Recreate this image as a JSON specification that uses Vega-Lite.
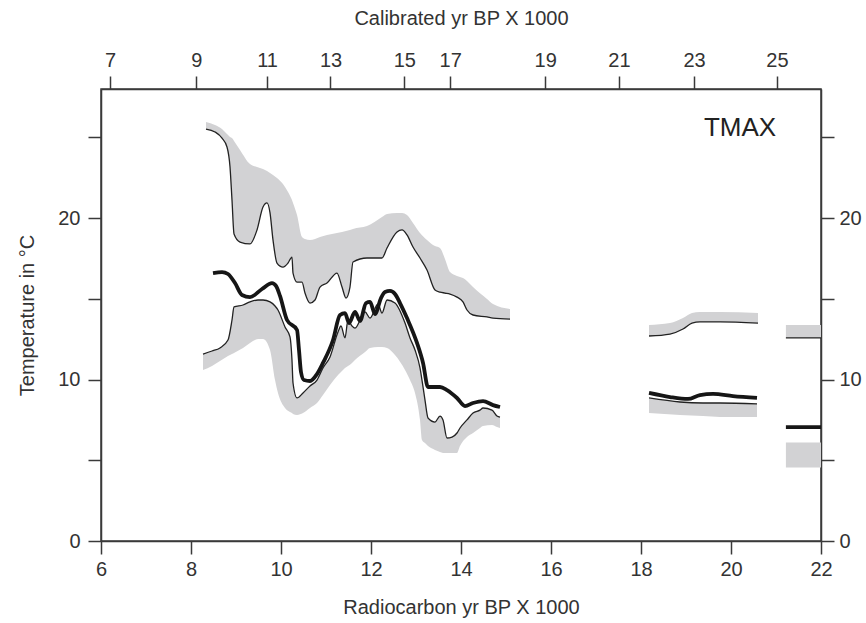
{
  "$schema": "https://vega.github.io/schema/vega-lite/v6.json",
  "width": 720,
  "height": 452,
  "autosize": {"type": "none"},
  "padding": {"left": 101, "top": 89, "right": 45, "bottom": 82},
  "background": "white",
  "config": {
    "view": {"stroke": "#3a3a3a", "strokeWidth": 1.5},
    "font": "Liberation Sans",
    "axis": {
      "domainColor": "#3a3a3a", "domainWidth": 1.5,
      "tickColor": "#3a3a3a", "tickWidth": 1.5, "tickSize": 13,
      "labelFont": "Liberation Sans", "labelFontSize": 20, "labelColor": "#333333",
      "titleFont": "Liberation Sans", "titleFontSize": 20, "titleFontWeight": "normal", "titleColor": "#333333",
      "grid": false, "labelPadding": 5, "labelOverlap": false, "labelFlush": false
    }
  },
  "datasets": {
    "upperBand": [
      {"seg": "A", "rc": 8.333, "lo": 25.52, "hi": 25.96},
      {"seg": "A", "rc": 8.533, "lo": 25.34, "hi": 25.77},
      {"seg": "A", "rc": 8.689, "lo": 24.96, "hi": 25.52},
      {"seg": "A", "rc": 8.8, "lo": 24.41, "hi": 25.21},
      {"seg": "A", "rc": 8.867, "lo": 23.17, "hi": 25.03},
      {"seg": "A", "rc": 8.911, "lo": 21.12, "hi": 24.96},
      {"seg": "A", "rc": 8.956, "lo": 19.02, "hi": 24.78},
      {"seg": "A", "rc": 9.089, "lo": 18.52, "hi": 24.22},
      {"seg": "A", "rc": 9.311, "lo": 18.4, "hi": 23.35},
      {"seg": "A", "rc": 9.467, "lo": 19.27, "hi": 23.17},
      {"seg": "A", "rc": 9.6, "lo": 20.69, "hi": 23.04},
      {"seg": "A", "rc": 9.689, "lo": 20.94, "hi": 22.92},
      {"seg": "A", "rc": 9.756, "lo": 20.32, "hi": 22.8},
      {"seg": "A", "rc": 9.822, "lo": 18.65, "hi": 22.67},
      {"seg": "A", "rc": 9.911, "lo": 17.22, "hi": 22.49},
      {"seg": "A", "rc": 10.044, "lo": 16.97, "hi": 22.11},
      {"seg": "A", "rc": 10.156, "lo": 17.22, "hi": 21.62},
      {"seg": "A", "rc": 10.244, "lo": 17.59, "hi": 21.12},
      {"seg": "A", "rc": 10.267, "lo": 16.6, "hi": 20.94},
      {"seg": "A", "rc": 10.356, "lo": 16.04, "hi": 20.19},
      {"seg": "A", "rc": 10.467, "lo": 16.04, "hi": 18.83},
      {"seg": "A", "rc": 10.533, "lo": 15.36, "hi": 18.71},
      {"seg": "A", "rc": 10.644, "lo": 14.74, "hi": 18.65},
      {"seg": "A", "rc": 10.756, "lo": 14.93, "hi": 18.71},
      {"seg": "A", "rc": 10.867, "lo": 15.73, "hi": 18.83},
      {"seg": "A", "rc": 11.022, "lo": 15.98, "hi": 18.96},
      {"seg": "A", "rc": 11.244, "lo": 16.6, "hi": 19.08},
      {"seg": "A", "rc": 11.356, "lo": 15.73, "hi": 19.14},
      {"seg": "A", "rc": 11.444, "lo": 15.05, "hi": 19.2},
      {"seg": "A", "rc": 11.533, "lo": 15.73, "hi": 19.27},
      {"seg": "A", "rc": 11.6, "lo": 17.28, "hi": 19.33},
      {"seg": "A", "rc": 11.911, "lo": 17.53, "hi": 19.51},
      {"seg": "A", "rc": 12.244, "lo": 17.53, "hi": 20.07},
      {"seg": "A", "rc": 12.356, "lo": 18.15, "hi": 20.26},
      {"seg": "A", "rc": 12.578, "lo": 19.14, "hi": 20.32},
      {"seg": "A", "rc": 12.689, "lo": 19.27, "hi": 20.32},
      {"seg": "A", "rc": 12.8, "lo": 18.96, "hi": 20.19},
      {"seg": "A", "rc": 12.933, "lo": 18.21, "hi": 19.7},
      {"seg": "A", "rc": 13.089, "lo": 17.53, "hi": 19.08},
      {"seg": "A", "rc": 13.244, "lo": 16.79, "hi": 18.65},
      {"seg": "A", "rc": 13.422, "lo": 15.55, "hi": 18.27},
      {"seg": "A", "rc": 13.533, "lo": 15.42, "hi": 18.15},
      {"seg": "A", "rc": 13.644, "lo": 15.36, "hi": 17.47},
      {"seg": "A", "rc": 13.756, "lo": 15.3, "hi": 16.66},
      {"seg": "A", "rc": 13.911, "lo": 15.11, "hi": 16.42},
      {"seg": "A", "rc": 14.044, "lo": 14.81, "hi": 16.29},
      {"seg": "A", "rc": 14.133, "lo": 14.31, "hi": 16.11},
      {"seg": "A", "rc": 14.267, "lo": 14.0, "hi": 15.73},
      {"seg": "A", "rc": 14.578, "lo": 13.88, "hi": 14.99},
      {"seg": "A", "rc": 14.711, "lo": 13.81, "hi": 14.68},
      {"seg": "A", "rc": 15.089, "lo": 13.75, "hi": 14.37},
      {"seg": "B", "rc": 18.178, "lo": 12.7, "hi": 13.38},
      {"seg": "B", "rc": 18.644, "lo": 12.82, "hi": 13.5},
      {"seg": "B", "rc": 18.933, "lo": 13.13, "hi": 13.81},
      {"seg": "B", "rc": 19.133, "lo": 13.5, "hi": 14.12},
      {"seg": "B", "rc": 19.311, "lo": 13.57, "hi": 14.19},
      {"seg": "B", "rc": 19.756, "lo": 13.57, "hi": 14.19},
      {"seg": "B", "rc": 20.6, "lo": 13.5, "hi": 14.12},
      {"seg": "C", "rc": 21.22, "lo": 12.58, "hi": 13.38},
      {"seg": "C", "rc": 22.0, "lo": 12.58, "hi": 13.38}
    ],
    "lowerBand": [
      {"seg": "A", "rc": 8.267, "lo": 10.59, "hi": 11.58},
      {"seg": "A", "rc": 8.467, "lo": 10.84, "hi": 11.77},
      {"seg": "A", "rc": 8.644, "lo": 11.15, "hi": 11.96},
      {"seg": "A", "rc": 8.822, "lo": 11.46, "hi": 12.45},
      {"seg": "A", "rc": 8.911, "lo": 11.58, "hi": 13.69},
      {"seg": "A", "rc": 8.956, "lo": 11.65, "hi": 14.5},
      {"seg": "A", "rc": 9.156, "lo": 11.96, "hi": 14.62},
      {"seg": "A", "rc": 9.311, "lo": 12.27, "hi": 14.81},
      {"seg": "A", "rc": 9.489, "lo": 12.51, "hi": 14.93},
      {"seg": "A", "rc": 9.6, "lo": 12.51, "hi": 14.93},
      {"seg": "A", "rc": 9.756, "lo": 11.83, "hi": 14.81},
      {"seg": "A", "rc": 9.867, "lo": 9.97, "hi": 14.56},
      {"seg": "A", "rc": 9.933, "lo": 9.17, "hi": 14.31},
      {"seg": "A", "rc": 10.089, "lo": 8.24, "hi": 13.26},
      {"seg": "A", "rc": 10.2, "lo": 7.99, "hi": 12.64},
      {"seg": "A", "rc": 10.244, "lo": 7.93, "hi": 11.21},
      {"seg": "A", "rc": 10.267, "lo": 7.87, "hi": 9.79},
      {"seg": "A", "rc": 10.356, "lo": 7.81, "hi": 8.86},
      {"seg": "A", "rc": 10.489, "lo": 7.93, "hi": 9.17},
      {"seg": "A", "rc": 10.644, "lo": 8.24, "hi": 9.6},
      {"seg": "A", "rc": 10.8, "lo": 8.55, "hi": 9.97},
      {"seg": "A", "rc": 10.933, "lo": 9.04, "hi": 10.72},
      {"seg": "A", "rc": 11.089, "lo": 9.66, "hi": 11.4},
      {"seg": "A", "rc": 11.267, "lo": 10.28, "hi": 12.95},
      {"seg": "A", "rc": 11.333, "lo": 10.47, "hi": 13.32},
      {"seg": "A", "rc": 11.422, "lo": 10.72, "hi": 12.58},
      {"seg": "A", "rc": 11.489, "lo": 10.84, "hi": 13.69},
      {"seg": "A", "rc": 11.578, "lo": 11.03, "hi": 13.32},
      {"seg": "A", "rc": 11.644, "lo": 11.21, "hi": 13.19},
      {"seg": "A", "rc": 11.867, "lo": 11.71, "hi": 14.19},
      {"seg": "A", "rc": 11.978, "lo": 11.96, "hi": 13.81},
      {"seg": "A", "rc": 12.156, "lo": 12.02, "hi": 14.68},
      {"seg": "A", "rc": 12.244, "lo": 12.02, "hi": 14.12},
      {"seg": "A", "rc": 12.356, "lo": 11.96, "hi": 14.93},
      {"seg": "A", "rc": 12.533, "lo": 11.52, "hi": 14.74},
      {"seg": "A", "rc": 12.756, "lo": 10.59, "hi": 13.5},
      {"seg": "A", "rc": 12.867, "lo": 9.97, "hi": 12.58},
      {"seg": "A", "rc": 12.978, "lo": 9.17, "hi": 11.83},
      {"seg": "A", "rc": 13.089, "lo": 7.5, "hi": 10.72},
      {"seg": "A", "rc": 13.133, "lo": 6.26, "hi": 9.97},
      {"seg": "A", "rc": 13.2, "lo": 6.07, "hi": 8.73},
      {"seg": "A", "rc": 13.267, "lo": 5.88, "hi": 7.62},
      {"seg": "A", "rc": 13.422, "lo": 5.64, "hi": 7.37},
      {"seg": "A", "rc": 13.533, "lo": 5.51, "hi": 7.74},
      {"seg": "A", "rc": 13.6, "lo": 5.45, "hi": 7.5},
      {"seg": "A", "rc": 13.689, "lo": 5.45, "hi": 6.38},
      {"seg": "A", "rc": 13.8, "lo": 5.45, "hi": 6.44},
      {"seg": "A", "rc": 13.911, "lo": 5.45, "hi": 6.69},
      {"seg": "A", "rc": 13.978, "lo": 5.88, "hi": 7.0},
      {"seg": "A", "rc": 14.133, "lo": 6.44, "hi": 7.5},
      {"seg": "A", "rc": 14.267, "lo": 6.69, "hi": 7.93},
      {"seg": "A", "rc": 14.422, "lo": 7.0, "hi": 8.11},
      {"seg": "A", "rc": 14.489, "lo": 7.12, "hi": 8.24},
      {"seg": "A", "rc": 14.689, "lo": 7.19, "hi": 8.11},
      {"seg": "A", "rc": 14.8, "lo": 7.06, "hi": 7.74},
      {"seg": "A", "rc": 14.867, "lo": 7.0, "hi": 7.68},
      {"seg": "B", "rc": 18.178, "lo": 7.93, "hi": 8.86},
      {"seg": "B", "rc": 18.867, "lo": 7.81, "hi": 8.61},
      {"seg": "B", "rc": 19.378, "lo": 7.74, "hi": 8.55},
      {"seg": "B", "rc": 19.756, "lo": 7.68, "hi": 8.55},
      {"seg": "B", "rc": 20.578, "lo": 7.68, "hi": 8.49},
      {"seg": "C", "rc": 21.22, "lo": 4.55, "hi": 6.1},
      {"seg": "C", "rc": 22.0, "lo": 4.55, "hi": 6.1}
    ],
    "tmax": [
      {"seg": "A", "rc": 8.489, "T": 16.6},
      {"seg": "A", "rc": 8.689, "T": 16.66},
      {"seg": "A", "rc": 8.822, "T": 16.54},
      {"seg": "A", "rc": 8.978, "T": 15.98},
      {"seg": "A", "rc": 9.133, "T": 15.24},
      {"seg": "A", "rc": 9.311, "T": 15.11},
      {"seg": "A", "rc": 9.578, "T": 15.61},
      {"seg": "A", "rc": 9.8, "T": 15.98},
      {"seg": "A", "rc": 9.889, "T": 15.8},
      {"seg": "A", "rc": 9.978, "T": 15.18},
      {"seg": "A", "rc": 10.133, "T": 13.69},
      {"seg": "A", "rc": 10.356, "T": 13.07},
      {"seg": "A", "rc": 10.4, "T": 11.83},
      {"seg": "A", "rc": 10.444, "T": 10.47},
      {"seg": "A", "rc": 10.511, "T": 9.97},
      {"seg": "A", "rc": 10.644, "T": 9.91},
      {"seg": "A", "rc": 10.8, "T": 10.34},
      {"seg": "A", "rc": 10.933, "T": 11.03},
      {"seg": "A", "rc": 11.156, "T": 12.45},
      {"seg": "A", "rc": 11.311, "T": 14.0},
      {"seg": "A", "rc": 11.422, "T": 14.12},
      {"seg": "A", "rc": 11.511, "T": 13.5},
      {"seg": "A", "rc": 11.644, "T": 14.19},
      {"seg": "A", "rc": 11.756, "T": 13.63},
      {"seg": "A", "rc": 11.889, "T": 14.74},
      {"seg": "A", "rc": 11.978, "T": 14.81},
      {"seg": "A", "rc": 12.089, "T": 14.06},
      {"seg": "A", "rc": 12.222, "T": 15.05},
      {"seg": "A", "rc": 12.311, "T": 15.42},
      {"seg": "A", "rc": 12.422, "T": 15.49},
      {"seg": "A", "rc": 12.533, "T": 15.3},
      {"seg": "A", "rc": 12.644, "T": 14.74},
      {"seg": "A", "rc": 12.8, "T": 13.81},
      {"seg": "A", "rc": 13.022, "T": 12.27},
      {"seg": "A", "rc": 13.156, "T": 11.03},
      {"seg": "A", "rc": 13.267, "T": 9.54},
      {"seg": "A", "rc": 13.533, "T": 9.54},
      {"seg": "A", "rc": 13.689, "T": 9.35},
      {"seg": "A", "rc": 13.911, "T": 8.86},
      {"seg": "A", "rc": 14.089, "T": 8.36},
      {"seg": "A", "rc": 14.267, "T": 8.55},
      {"seg": "A", "rc": 14.489, "T": 8.67},
      {"seg": "A", "rc": 14.711, "T": 8.42},
      {"seg": "A", "rc": 14.867, "T": 8.3},
      {"seg": "B", "rc": 18.178, "T": 9.17},
      {"seg": "B", "rc": 18.644, "T": 8.92},
      {"seg": "B", "rc": 19.044, "T": 8.8},
      {"seg": "B", "rc": 19.311, "T": 9.04},
      {"seg": "B", "rc": 19.6, "T": 9.11},
      {"seg": "B", "rc": 20.044, "T": 8.98},
      {"seg": "B", "rc": 20.578, "T": 8.86},
      {"seg": "C", "rc": 21.22, "T": 7.06},
      {"seg": "C", "rc": 22.0, "T": 7.06}
    ],
    "labels": [
      {"rc": 20.2, "T": 25.6, "text": "TMAX"}
    ]
  },
  "layer": [
    {
      "data": {"name": "upperBand"},
      "mark": {"type": "area", "color": "#d2d2d4", "interpolate": "monotone"},
      "encoding": {
        "x": {
          "field": "rc", "type": "quantitative",
          "scale": {"domain": [6, 22], "nice": false, "zero": false},
          "axis": {
            "orient": "bottom", "values": [6, 8, 10, 12, 14, 16, 18, 20, 22],
            "title": "Radiocarbon yr BP X 1000", "titlePadding": 18
          }
        },
        "y": {
          "field": "hi", "type": "quantitative",
          "scale": {"domain": [0, 28], "nice": false, "zero": false},
          "axis": {
            "orient": "left", "values": [0, 5, 10, 15, 20, 25],
            "labelExpr": "datum.value % 10 === 0 ? datum.label : ''",
            "labelPadding": 8,
            "title": "Temperature in °C", "titlePadding": 20
          }
        },
        "y2": {"field": "lo"},
        "detail": {"field": "seg"}
      }
    },
    {
      "data": {"name": "lowerBand"},
      "mark": {"type": "area", "color": "#d2d2d4", "interpolate": "monotone"},
      "encoding": {
        "x": {
          "field": "rc", "type": "quantitative",
          "scale": {"domain": [6, 22], "nice": false, "zero": false},
          "axis": {
            "orient": "top",
            "values": [6.2, 8.12, 9.69, 11.1, 12.74, 13.76, 15.87, 17.51, 19.18, 21.02],
            "labelExpr": "datum.value < 7 ? '7' : datum.value < 9 ? '9' : datum.value < 10.5 ? '11' : datum.value < 12 ? '13' : datum.value < 13.3 ? '15' : datum.value < 15 ? '17' : datum.value < 16.5 ? '19' : datum.value < 18.5 ? '21' : datum.value < 20 ? '23' : '25'",
            "labelPadding": 6,
            "title": "Calibrated yr BP X 1000", "titlePadding": 22
          }
        },
        "y": {
          "field": "hi", "type": "quantitative",
          "scale": {"domain": [0, 28], "nice": false, "zero": false},
          "axis": {
            "orient": "right", "values": [0, 5, 10, 15, 20, 25],
            "labelExpr": "datum.value % 10 === 0 ? datum.label : ''",
            "title": null
          }
        },
        "y2": {"field": "lo"},
        "detail": {"field": "seg"}
      }
    },
    {
      "data": {"name": "upperBand"},
      "mark": {"type": "line", "color": "#222222", "strokeWidth": 1.3, "interpolate": "monotone"},
      "encoding": {
        "x": {"field": "rc", "type": "quantitative", "axis": null},
        "y": {"field": "lo", "type": "quantitative", "axis": null},
        "detail": {"field": "seg"}
      }
    },
    {
      "data": {"name": "lowerBand"},
      "transform": [{"filter": "datum.seg !== 'C'"}],
      "mark": {"type": "line", "color": "#222222", "strokeWidth": 1.3, "interpolate": "monotone"},
      "encoding": {
        "x": {"field": "rc", "type": "quantitative", "axis": null},
        "y": {"field": "hi", "type": "quantitative", "axis": null},
        "detail": {"field": "seg"}
      }
    },
    {
      "data": {"name": "tmax"},
      "mark": {"type": "line", "color": "#161616", "strokeWidth": 3.8, "interpolate": "monotone"},
      "encoding": {
        "x": {"field": "rc", "type": "quantitative", "axis": null},
        "y": {"field": "T", "type": "quantitative", "axis": null},
        "detail": {"field": "seg"}
      }
    },
    {
      "data": {"name": "labels"},
      "mark": {"type": "text", "font": "Liberation Sans", "fontSize": 26, "color": "#222222", "align": "center", "baseline": "middle"},
      "encoding": {
        "x": {"field": "rc", "type": "quantitative", "axis": null},
        "y": {"field": "T", "type": "quantitative", "axis": null},
        "text": {"field": "text"}
      }
    }
  ],
  "resolve": {"axis": {"x": "independent", "y": "independent"}}
}
